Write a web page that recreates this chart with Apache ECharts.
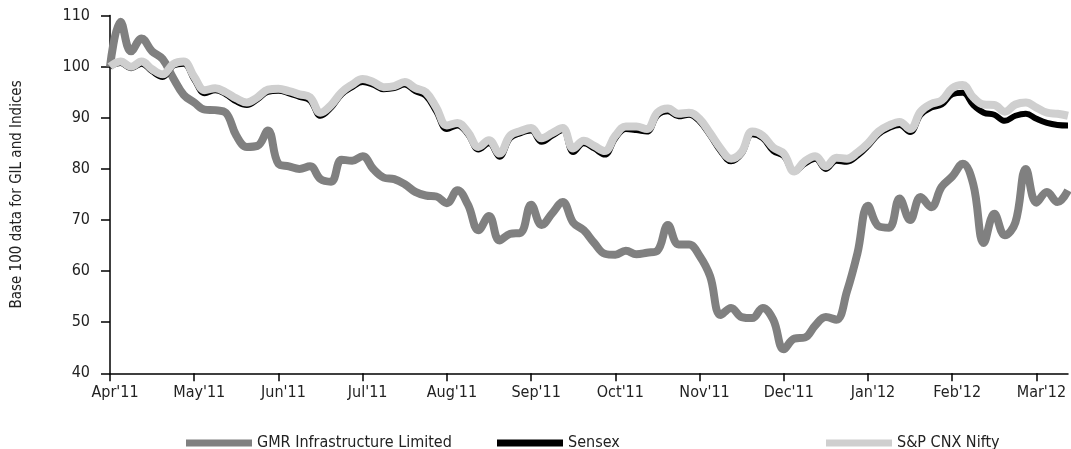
<!DOCTYPE html>
<html>
<head>
<meta charset="utf-8">
<script src="https://cdn.jsdelivr.net/npm/echarts@6/dist/echarts.min.js"></script>
<style>
html, body { margin: 0; padding: 0; background: #fff; }
#chart { width: 1071px; height: 449px; }
</style>
</head>
<body>
<div id="chart"></div>
<script>
// month tick labels, 8 samples per month
const monthLabels = ["Apr'11", "May'11", "Jun'11", "Jul'11", "Aug'11", "Sep'11", "Oct'11", "Nov'11", "Dec'11", "Jan'12", "Feb'12", "Mar'12"];
const PER_MONTH = 8;

const gmr = [
    100, 108.8, 103, 105.5, 103, 101.5, 97.8, 94.5,
    93, 91.6, 91.5, 91, 86.5, 84.3, 84.5, 87.5,
    81, 80.5, 80, 80.5, 78, 77.5, 81.8, 81.6,
    82.5, 80, 78.3, 78, 77, 75.5, 74.8, 74.6,
    73.3, 75.8, 73, 68, 70.8, 66, 67.3, 67.5,
    73, 69, 71.3, 73.5, 69.5, 68, 65.5, 63.4,
    63.2, 64, 63.3, 63.6, 64, 69, 65.2, 65.2,
    63, 59, 51.4, 52.8, 51, 50.8, 52.8, 50.5,
    44.7, 46.8, 47, 49.4, 51, 50.5, 56, 63.5,
    72.8, 68.8, 68.5, 74.2, 70, 74.5, 72.5, 76.5,
    78.5, 81, 77, 65.5, 71.2, 67, 69.5, 80,
    73.4, 75.5, 73.5, 75.8
];

const sensex = [
    100, 100.7, 99.7, 100.6, 99.1, 98, 100.2, 100.6,
    97.5, 94.8, 95.4, 94.6, 93.2, 92.5, 93.6, 95.1,
    95.3, 94.8, 94.1, 93.4, 90.4, 92, 94.6, 96,
    97, 96.5, 95.6, 95.8, 96.5, 95.2, 94.3, 91.2,
    87.8, 88.5, 86.8, 83.8, 85, 82.4, 86, 87,
    87.5, 85.3, 86.5, 87.6, 83.3, 85, 84, 82.8,
    86, 87.8, 87.6, 87.3, 90.5, 91.3, 90.3, 90.6,
    89.3, 86.6, 83.5, 81.5, 83, 86.8, 86, 83.5,
    82.5, 79.5, 81, 82, 80, 81.6, 81.4, 82.6,
    84.5, 86.8, 88, 88.6, 87.2, 90.6, 92, 92.6,
    94.6, 94.9, 92.5, 91, 90.6, 89.4, 90.4, 90.8,
    89.8, 89, 88.6, 88.5
];

const nifty = [
    100, 101, 100, 101, 99.5, 98.5, 100.5, 101,
    98, 95.4, 95.8, 95, 93.8, 93, 94, 95.5,
    95.7, 95.2, 94.6, 94, 91, 92.5, 95, 96.5,
    97.6, 97, 96, 96.2, 97, 95.8, 95, 92,
    88.5, 89, 87.2, 84.3, 85.6, 83, 86.5, 87.4,
    88, 86, 87, 88, 84, 85.5, 84.5, 83.5,
    86.5, 88.3, 88.3, 87.8, 91, 91.8, 90.8, 91,
    89.8, 87, 84, 82, 83.3, 87.3, 86.5, 84.2,
    83, 79.5, 81.5, 82.5, 80.5, 82.2, 82, 83.2,
    85, 87.3, 88.5, 89.2, 87.8, 91.2, 92.7, 93.4,
    95.8, 96.4, 94, 92.6, 92.5, 91.2, 92.6, 93,
    92, 91, 90.8, 90.4
];

const yTicks = { min: 40, max: 110, interval: 10 };

const categories = gmr.map((_, i) =>
    monthLabels[Math.floor(i / PER_MONTH)] + ' ' + (i % PER_MONTH));

const FONT = '"DejaVu Sans Condensed", "Liberation Sans Narrow", sans-serif';

const chart = echarts.init(document.getElementById('chart'), null, { renderer: 'canvas' });

function legendAt(name, left) {
    return {
        data: [name],
        left: left,
        top: 430,
        icon: 'rect',
        itemWidth: 66,
        itemHeight: 7,
        itemGap: 5,
        itemStyle: { borderWidth: 0 },
        lineStyle: { cap: 'butt', width: 7 },
        textStyle: { fontFamily: FONT, fontSize: 16, color: '#222' },
        selectedMode: false
    };
}

function lineSeries(name, data, color, width, z) {
    return {
        name: name,
        type: 'line',
        data: data,
        smooth: 0.4,
        showSymbol: false,
        symbol: 'none',
        z: z,
        color: color,
        lineStyle: { color: color, width: width, cap: 'butt', join: 'round' },
        animation: false
    };
}

chart.setOption({
    animation: false,
    grid: { left: 110, right: 3, top: 15.6, bottom: 75.7, containLabel: false },
    legend: [
        legendAt('GMR Infrastructure Limited', 181),
        legendAt('Sensex', 492),
        legendAt('S&P CNX Nifty', 821)
    ],
    xAxis: {
        type: 'category',
        data: categories,
        boundaryGap: false,
        axisLine: { lineStyle: { color: '#000', width: 1.5 } },
        axisTick: { show: true, interval: PER_MONTH - 1, length: 8, lineStyle: { color: '#000', width: 1.5 } },
        axisLabel: {
            interval: PER_MONTH - 1,
            margin: 12,
            padding: [0, 0, 0, 10],
            fontFamily: FONT,
            fontSize: 16,
            color: '#222',
            formatter: v => v.split(' ')[0]
        },
        splitLine: { show: false }
    },
    yAxis: {
        type: 'value',
        min: yTicks.min,
        max: yTicks.max,
        interval: yTicks.interval,
        name: 'Base 100 data for GIL and Indices',
        nameLocation: 'middle',
        nameGap: 85,
        nameTextStyle: { fontFamily: FONT, fontSize: 15, color: '#222' },
        axisLine: { show: true, lineStyle: { color: '#000', width: 1.5 } },
        axisTick: { show: true, length: 9, lineStyle: { color: '#000', width: 1.5 } },
        axisLabel: { margin: 20, fontFamily: FONT, fontSize: 16, color: '#222' },
        splitLine: { show: false }
    },
    series: [
        lineSeries('GMR Infrastructure Limited', gmr, '#808080', 8, 2),
        lineSeries('Sensex', sensex, '#000000', 6, 3),
        lineSeries('S&P CNX Nifty', nifty, '#cfcfcf', 8, 4)
    ]
});
</script>
</body>
</html>
